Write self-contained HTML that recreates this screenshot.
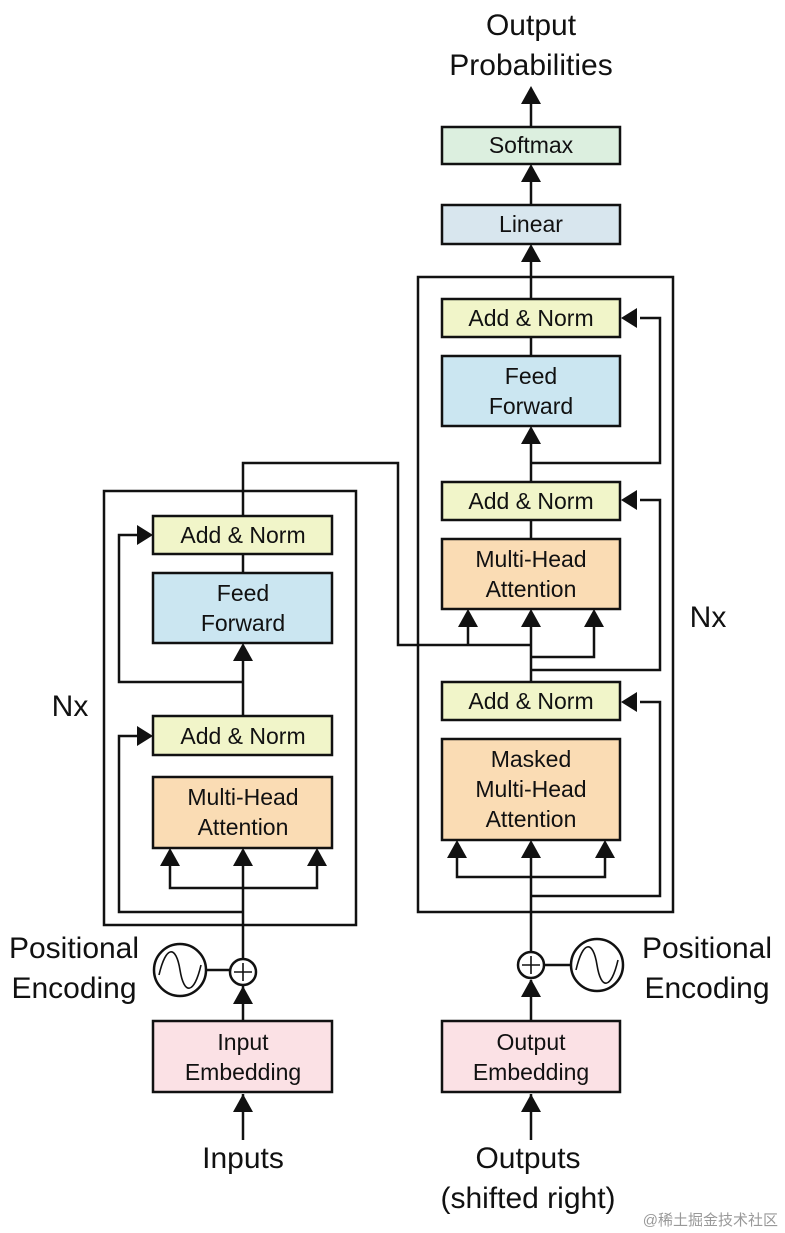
<!DOCTYPE html>
<html><head><style>body{margin:0;background:#fff}svg{display:block}text{font-family:"Liberation Sans","Noto Sans CJK SC",sans-serif}</style></head><body>
<svg width="785" height="1233" viewBox="0 0 785 1233" xmlns="http://www.w3.org/2000/svg">
<g fill="none" stroke="#111" stroke-width="2.5">
<rect x="104" y="491" width="252" height="434"/>
<rect x="418" y="277" width="255" height="635"/>
</g>
<g stroke="#111" stroke-width="2.5" fill="none">
<polyline points="243,1140 243,1094"/>
<polyline points="243,1021 243,986"/>
<polyline points="243,958 243,850"/>
<polyline points="170,866 170,888 317,888 317,866"/>
<polyline points="243,912 119,912 119,736 140,736"/>
<polyline points="243,755 243,660"/>
<polyline points="243,682 119,682 119,535 140,535"/>
<polyline points="243,554 243,573"/>
<polyline points="243,516 243,463 398,463 398,645 531,645"/>
<polyline points="468,645 468,626"/>
<polyline points="205,970 231,970"/>
<polyline points="531,1140 531,1094"/>
<polyline points="531,1021 531,980"/>
<polyline points="543,965 572,965"/>
<polyline points="531,953 531,858"/>
<polyline points="457,858 457,877 605,877 605,858"/>
<polyline points="531,896 660,896 660,702 640,702"/>
<polyline points="531,720 531,626"/>
<polyline points="531,657 594,657 594,626"/>
<polyline points="531,670 660,670 660,500 640,500"/>
<polyline points="531,520 531,539"/>
<polyline points="531,482 531,444"/>
<polyline points="531,463 660,463 660,318 640,318"/>
<polyline points="531,337 531,356"/>
<polyline points="531,299 531,262"/>
<polyline points="531,205 531,182"/>
<polyline points="531,127 531,104"/>
</g>
<g fill="#111">
<path d="M233,1112 L253,1112 L243,1094 Z"/>
<path d="M233,1004 L253,1004 L243,986 Z"/>
<path d="M160,866 L180,866 L170,848 Z"/>
<path d="M233,866 L253,866 L243,848 Z"/>
<path d="M307,866 L327,866 L317,848 Z"/>
<path d="M233,661 L253,661 L243,643 Z"/>
<path d="M137,726 L137,746 L153,736 Z"/>
<path d="M137,525 L137,545 L153,535 Z"/>
<path d="M521,1112 L541,1112 L531,1094 Z"/>
<path d="M521,997 L541,997 L531,979 Z"/>
<path d="M447,858 L467,858 L457,840 Z"/>
<path d="M521,858 L541,858 L531,840 Z"/>
<path d="M595,858 L615,858 L605,840 Z"/>
<path d="M458,627 L478,627 L468,609 Z"/>
<path d="M521,627 L541,627 L531,609 Z"/>
<path d="M584,627 L604,627 L594,609 Z"/>
<path d="M521,444 L541,444 L531,426 Z"/>
<path d="M521,262 L541,262 L531,244 Z"/>
<path d="M521,182 L541,182 L531,164 Z"/>
<path d="M521,104 L541,104 L531,86 Z"/>
<path d="M637,692 L637,712 L621,702 Z"/>
<path d="M637,490 L637,510 L621,500 Z"/>
<path d="M637,308 L637,328 L621,318 Z"/>
</g>
<g stroke="#111" stroke-width="2.5">
<rect x="153" y="516" width="179" height="38" fill="#f1f5c9"/>
<rect x="153" y="573" width="179" height="70" fill="#cbe6f1"/>
<rect x="153" y="716" width="179" height="39" fill="#f1f5c9"/>
<rect x="153" y="777" width="179" height="71" fill="#fadcb4"/>
<rect x="153" y="1021" width="179" height="71" fill="#fbe1e5"/>
<rect x="442" y="299" width="178" height="38" fill="#f1f5c9"/>
<rect x="442" y="356" width="178" height="70" fill="#cbe6f1"/>
<rect x="442" y="482" width="178" height="38" fill="#f1f5c9"/>
<rect x="442" y="539" width="178" height="70" fill="#fadcb4"/>
<rect x="442" y="682" width="178" height="38" fill="#f1f5c9"/>
<rect x="442" y="739" width="178" height="101" fill="#fadcb4"/>
<rect x="442" y="205" width="178" height="39" fill="#d8e6ee"/>
<rect x="442" y="127" width="178" height="37" fill="#dcefdf"/>
<rect x="442" y="1021" width="178" height="71" fill="#fbe1e5"/>
<circle cx="243" cy="972" r="13" fill="#fff"/>
<circle cx="180" cy="970" r="26" fill="#fff"/>
<circle cx="531" cy="965" r="13" fill="#fff"/>
<circle cx="597" cy="965" r="26" fill="#fff"/>
</g>
<g stroke="#111" stroke-width="1.6" fill="none">
<path d="M234,972 H252 M243,963 V981 M522,965 H540 M531,956 V974"/>
<path d="M159,975 C166,945 176,945 180,970 C184,995 194,995 201,965"/>
<path d="M576,970 C583,940 593,940 597,965 C601,990 611,990 618,960"/>
</g>
<g font-size="23" fill="#111" text-anchor="middle">
<text x="243" y="543">Add &amp; Norm</text>
<text x="243" y="601">Feed</text><text x="243" y="631">Forward</text>
<text x="243" y="744">Add &amp; Norm</text>
<text x="243" y="805">Multi-Head</text><text x="243" y="835">Attention</text>
<text x="243" y="1050">Input</text><text x="243" y="1080">Embedding</text>
<text x="531" y="326">Add &amp; Norm</text>
<text x="531" y="384">Feed</text><text x="531" y="414">Forward</text>
<text x="531" y="509">Add &amp; Norm</text>
<text x="531" y="567">Multi-Head</text><text x="531" y="597">Attention</text>
<text x="531" y="709">Add &amp; Norm</text>
<text x="531" y="767">Masked</text><text x="531" y="797">Multi-Head</text><text x="531" y="827">Attention</text>
<text x="531" y="232">Linear</text>
<text x="531" y="153">Softmax</text>
<text x="531" y="1050">Output</text><text x="531" y="1080">Embedding</text>
</g>
<g font-size="30" fill="#111" text-anchor="middle">
<text x="531" y="35">Output</text><text x="531" y="75">Probabilities</text>
<text x="74" y="958">Positional</text><text x="74" y="998">Encoding</text>
<text x="707" y="958">Positional</text><text x="707" y="998">Encoding</text>
<text x="243" y="1168">Inputs</text>
<text x="528" y="1168">Outputs</text><text x="528" y="1208">(shifted right)</text>
<text x="70" y="716">Nx</text>
<text x="708" y="627">Nx</text>
</g>
<text x="778" y="1225" font-size="15" fill="#999" text-anchor="end">@稀土掘金技术社区</text>
</svg>
</body></html>
